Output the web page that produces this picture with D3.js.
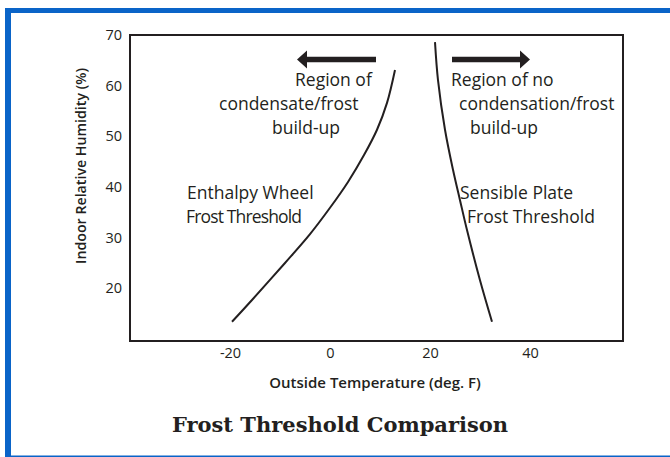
<!DOCTYPE html>
<html>
<head>
<meta charset="utf-8">
<script src="https://cdn.jsdelivr.net/npm/d3@7"></script>
<style>
  html, body { margin: 0; padding: 0; background: #fff; }
  svg { display: block; }
  text { fill: #231f20; }
</style>
</head>
<body>
<svg id="chart" width="670" height="457"></svg>
<script>
// Frost threshold curves: [outside temperature (°F), indoor RH (%)]
const enthalpyWheel = [
  [-19.6, 13.4], [-15.6, 17.7], [-9.0, 25.0], [-4.0, 30.7], [0.0, 35.9],
  [3.6, 41.0], [6.8, 46.3], [9.4, 51.3], [11.4, 56.6], [13.0, 63.1]
];
const sensiblePlate = [
  [21.0, 68.6], [21.6, 61.1], [23.0, 51.3], [24.6, 43.4],
  [26.0, 37.4], [27.4, 31.5], [30.0, 21.6], [32.4, 13.4]
];
const xTicks = [-20, 0, 20, 40];
const yTicks = [20, 30, 40, 50, 60, 70];
const xDomain = [-40, 58.6];
const yDomain = [9.6, 70];

const svg = d3.select("#chart");
const ink = "#231f20";
const sans = "'Open Sans', sans-serif";

// page frame
svg.append("rect").attr("x", 5).attr("y", 8).attr("width", 665).attr("height", 5).attr("fill", "#0a64c8");
svg.append("rect").attr("x", 5).attr("y", 8).attr("width", 6).attr("height", 449).attr("fill", "#0a64c8");
svg.append("rect").attr("x", 5).attr("y", 455.5).attr("width", 665).attr("height", 1.5).attr("fill", "#0a64c8");

const plot = { left: 130, right: 623, top: 35, bottom: 341 };
const x = d3.scaleLinear().domain(xDomain).range([plot.left, plot.right]);
const y = d3.scaleLinear().domain(yDomain).range([plot.bottom, plot.top]);

// axes (labels only, frame drawn as a box)
const gx = svg.append("g").attr("transform", `translate(0,${plot.bottom})`)
  .call(d3.axisBottom(x).tickValues(xTicks).tickSize(0).tickPadding(7).tickFormat(d3.format("d")));
const gy = svg.append("g").attr("transform", `translate(${plot.left},0)`)
  .call(d3.axisLeft(y).tickValues(yTicks).tickSize(0).tickPadding(8));
[gx, gy].forEach(g => {
  g.select(".domain").remove();
  g.selectAll("text").attr("font-family", sans).attr("font-size", 14.5).attr("fill", ink);
});
gx.selectAll("text").text(d => d < 0 ? "-" + Math.abs(d) : d);

svg.append("rect")
  .attr("x", plot.left).attr("y", plot.top)
  .attr("width", plot.right - plot.left).attr("height", plot.bottom - plot.top)
  .attr("fill", "none").attr("stroke", ink).attr("stroke-width", 2);

// threshold curves
const line = d3.line().x(d => x(d[0])).y(d => y(d[1])).curve(d3.curveCatmullRom.alpha(0.5));
[enthalpyWheel, sensiblePlate].forEach(s => {
  svg.append("path").attr("d", line(s)).attr("fill", "none")
    .attr("stroke", ink).attr("stroke-width", 2);
});

// direction arrows
function arrow(x0, x1, yy) {
  const dir = Math.sign(x1 - x0);
  const headLen = 10, headHalf = 9;
  svg.append("line").attr("x1", x0).attr("x2", x1 - dir * headLen + dir)
    .attr("y1", yy).attr("y2", yy).attr("stroke", ink).attr("stroke-width", 5.5);
  svg.append("path")
    .attr("d", `M${x1},${yy} L${x1 - dir * headLen},${yy - headHalf} L${x1 - dir * headLen},${yy + headHalf} Z`)
    .attr("fill", ink);
}
arrow(376, 297, 59.5);
arrow(452, 530, 59.5);

// annotations: [text, x, baseline, fitted width (optional)]
function label(lines, size) {
  lines.forEach(([t, lx, ly, w]) => {
    const el = svg.append("text").attr("x", lx).attr("y", ly)
      .attr("font-family", sans).attr("font-size", size).text(t);
    if (w) el.attr("textLength", w).attr("lengthAdjust", "spacing");
  });
}
label([
  ["Region of", 295, 86],
  ["condensate/frost", 219, 110],
  ["build-up", 272, 134],
  ["Enthalpy Wheel", 187, 199],
  ["Frost Threshold", 186, 223, 116],
  ["Region of no", 451, 86],
  ["condensation/frost", 459, 110],
  ["build-up", 470, 134],
  ["Sensible Plate", 460, 199],
  ["Frost Threshold", 467, 223]
], 17.5);

// axis titles
svg.append("text").attr("x", 375).attr("y", 388).attr("text-anchor", "middle")
  .attr("font-family", sans).attr("font-weight", 600).attr("font-size", 15)
  .text("Outside Temperature (deg. F)");
svg.append("text").attr("transform", "translate(86,166) rotate(-90)").attr("text-anchor", "middle")
  .attr("font-family", sans).attr("font-weight", 600).attr("font-size", 14.2)
  .text("Indoor Relative Humidity (%)");

// chart title
svg.append("text").attr("x", 340).attr("y", 432).attr("text-anchor", "middle")
  .attr("font-family", "'DejaVu Serif', serif").attr("font-weight", "bold").attr("font-size", 21)
  .text("Frost Threshold Comparison");
</script>
</body>
</html>
